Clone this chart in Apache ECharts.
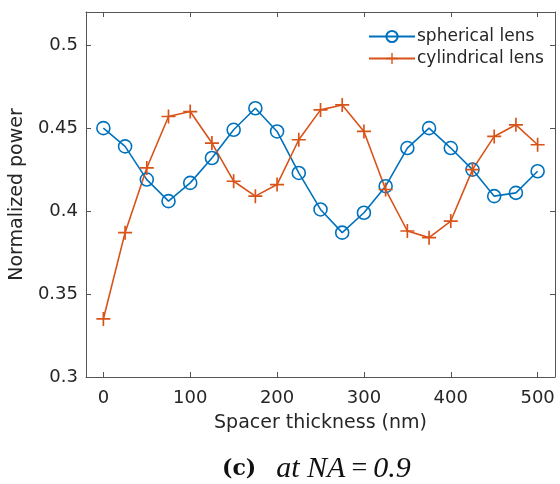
<!DOCTYPE html>
<html>
<head>
<meta charset="utf-8">
<script src="https://cdn.jsdelivr.net/npm/echarts@6/dist/echarts.min.js"></script>
<style>html,body{margin:0;padding:0;background:#fff;}#c{width:560px;height:484px;}</style>
</head>
<body>
<div id="c"></div>
<script>
const thickness = [0,25,50,75,100,125,150,175,200,225,250,275,300,325,350,375,400,425,450,475,500];
const spherical = [0.450,0.439,0.419,0.406,0.417,0.432,0.449,0.462,0.448,0.423,0.401,0.387,0.399,0.415,0.438,0.450,0.438,0.425,0.409,0.411,0.424];
const cylindrical = [0.335,0.387,0.426,0.457,0.460,0.441,0.418,0.409,0.416,0.443,0.461,0.464,0.448,0.413,0.388,0.384,0.394,0.425,0.445,0.452,0.440];
const seriesNames = ['spherical lens','cylindrical lens'];
const xTicks = [0,100,200,300,400,500];
const yTicks = [0.3,0.35,0.4,0.45,0.5];

const blue = '#0072BD', orange = '#D95319';
const axisCol = '#555';
const txt = '#262626';
const plus = 'path://M4.4,0h1.2v4.4h4.4v1.2h-4.4v4.4h-1.2v-4.4h-4.4v-1.2h4.4z';
const pair = (xs, ys) => xs.map((x, i) => [x, ys[i]]);

const chart = echarts.init(document.getElementById('c'));
const grid = {left: 86, right: 5, top: 12, bottom: 107};
const baseX = {
  type: 'value', min: -20, max: 520, interval: 100,
  splitLine: {show: false},
  axisLine: {onZero: false, lineStyle: {color: axisCol, width: 1}},
  axisLabel: {show: false}
};
chart.setOption({
  animation: false,
  grid: grid,
  xAxis: [
    Object.assign({}, baseX, {
      position: 'bottom',
      axisTick: {inside: true, length: 5, lineStyle: {color: axisCol}, customValues: xTicks},
      axisLabel: {show: true, customValues: xTicks, color: txt, fontSize: 18, fontFamily: 'DejaVu Sans', margin: 12},
      name: 'Spacer thickness (nm)', nameLocation: 'middle', nameGap: 37,
      nameTextStyle: {color: txt, fontSize: 19, fontFamily: 'DejaVu Sans'}
    }),
    Object.assign({}, baseX, {
      position: 'top',
      axisTick: {inside: true, length: 5, lineStyle: {color: axisCol}, customValues: xTicks}
    })
  ],
  yAxis: [
    {
      type: 'value', min: 0.3, max: 0.52, position: 'left',
      splitLine: {show: false},
      axisLine: {show: true, onZero: false, lineStyle: {color: axisCol, width: 1}},
      axisTick: {show: true, inside: true, length: 5, lineStyle: {color: axisCol}, customValues: yTicks},
      axisLabel: {customValues: yTicks, color: txt, fontSize: 18, fontFamily: 'DejaVu Sans', margin: 8,
        formatter: v => String(+v.toFixed(2))},
      name: 'Normalized power', nameLocation: 'middle', nameGap: 54,
      nameTextStyle: {color: txt, fontSize: 19, fontFamily: 'DejaVu Sans'}
    },
    {
      type: 'value', min: 0.3, max: 0.52, position: 'right',
      splitLine: {show: false},
      axisLine: {show: true, onZero: false, lineStyle: {color: axisCol, width: 1}},
      axisTick: {show: true, inside: true, length: 5, lineStyle: {color: axisCol}, customValues: yTicks},
      axisLabel: {show: false}
    }
  ],
  legend: {
    orient: 'vertical', left: 368, top: 28, padding: 0, itemGap: 5,
    itemWidth: 46, itemHeight: 14,
    textStyle: {color: txt, fontSize: 17, fontFamily: 'DejaVu Sans', padding: [0,0,0,-3]},
    data: seriesNames
  },
  title: {
    left: 217, top: 449,
    text: '{b|(c)}{g|}{i|at NA}{n|=}{i|0.9}',
    textStyle: {
      fontWeight: 'normal',
      rich: {
        b: {fontFamily: 'DejaVu Serif', fontWeight: 'bold', fontSize: 22, color: '#111'},
        g: {width: 20},
        i: {fontFamily: 'Liberation Serif', fontStyle: 'italic', fontWeight: 'normal', fontSize: 30, color: '#111'},
        n: {fontFamily: 'Liberation Serif', fontWeight: 'normal', fontSize: 28, color: '#111', padding: [0, 6]}
      }
    }
  },
  series: [
    {
      name: seriesNames[0], type: 'line', data: pair(thickness, spherical),
      symbol: 'circle', symbolSize: 13,
      lineStyle: {color: blue, width: 1.6},
      itemStyle: {color: 'rgba(255,255,255,0)', borderColor: blue, borderWidth: 1.6}
    },
    {
      name: seriesNames[1], type: 'line', data: pair(thickness, cylindrical),
      symbol: plus, symbolSize: 14,
      lineStyle: {color: orange, width: 1.6},
      itemStyle: {color: orange, borderWidth: 0}
    }
  ]
});
</script>
</body>
</html>
